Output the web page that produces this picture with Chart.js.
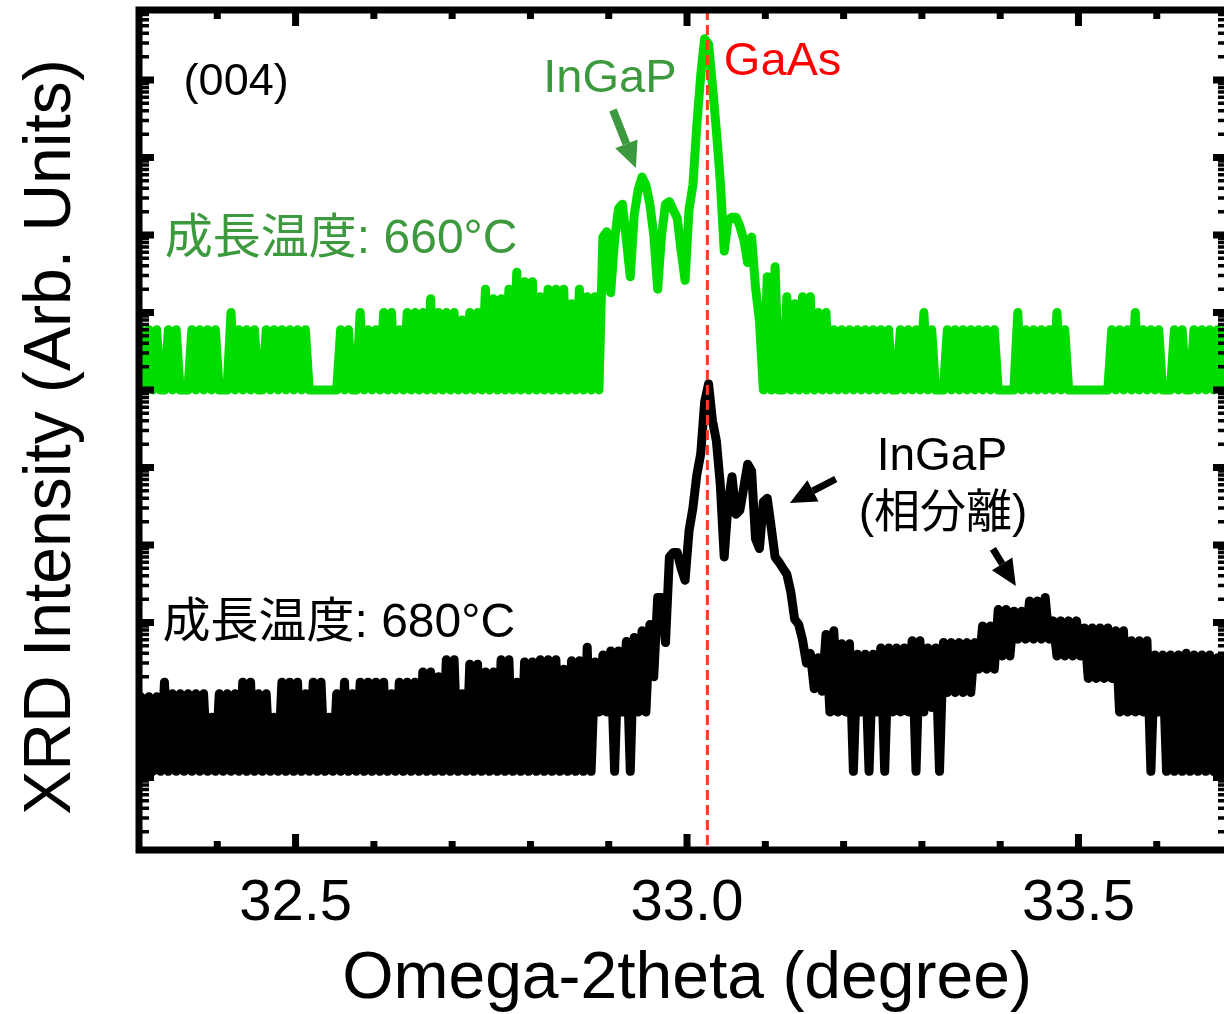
<!DOCTYPE html>
<html>
<head>
<meta charset="utf-8">
<title>XRD (004)</title>
<script src="https://cdn.jsdelivr.net/npm/chart.js@4.4.1/dist/chart.umd.min.js"></script>
<style>
  html, body {margin: 0; padding: 0; background: #fff; overflow: hidden;}
  #xrd {display: block;}
</style>
</head>
<body>
<canvas id="xrd" width="1234" height="1014"></canvas>
<script>

// scan grid, degrees (omega-2theta)
var scanStart = 32.3025;
var scanStep = 0.005;
var gaasAngle = 33.026;

// 660C sample, intensity (arb., shifted up), one value per scan step
var green660 = [
  6e5,1e5,6e5,1e5,6e5,1e5,1e5,6e5,1e5,6e5,
  1e5,1e5,1e5,6e5,1e5,6e5,1e5,6e5,1e5,6e5,
  1e5,1e5,1e5,1e6,1e5,6e5,1e5,6e5,1e5,6e5,
  1e5,1e5,6e5,1e5,6e5,1e5,6e5,1e5,6e5,1e5,
  6e5,1e5,6e5,1e5,1e5,1e5,1e5,1e5,1e5,1e5,
  1e5,6e5,1e5,6e5,1e5,1e5,1e6,1e5,6e5,1e5,
  6e5,1e5,1e6,1e5,1e6,1e5,6e5,1e5,1e6,1e5,
  1e6,1e5,1e6,1e5,1.5e6,1e5,1e6,1e5,1e6,1e5,
  1e6,1e5,8e5,1e5,1e6,1e5,1e6,1e5,2e6,1e5,
  1.5e6,1e5,1.5e6,1e5,2e6,1e5,3.3e6,1e5,2.5e6,1e5,
  2.5e6,1e5,1.6e6,1e5,2e6,1e5,2e6,1e5,2e6,1e5,
  1.3e6,1e5,2e6,1e5,1.6e6,1e5,1.6e6,1e5,9.4e6,1.1e7,
  1.8e6,8.7e6,2.2e7,2.5e7,8.7e6,2.9e6,1.8e7,3.8e7,5.6e7,4.4e7,
  2.5e7,1e7,2e6,1e7,2.5e7,2.7e7,2.1e7,1.65e7,6.2e6,2.6e6,
  2.1e7,4.4e7,2.6e8,1.15e9,3.4e9,2.9e9,8.5e8,2.2e8,4.9e7,6.2e6,
  1.55e7,1.7e7,1.7e7,1.3e7,8.7e6,4.4e6,9.4e6,2.1e6,7.9e5,1e5,
  2.9e6,1e5,3.9e6,1e5,1e5,1.6e6,1e5,1.3e6,1e5,1.6e6,
  1e5,1.6e6,1e5,1e6,1e5,1e6,1e5,6e5,1e5,6e5,
  1e5,6e5,1e5,6e5,1e5,6e5,1e5,6e5,1e5,6e5,
  1e5,6e5,1e5,1e5,6e5,1e5,6e5,1e5,6e5,1e5,
  1e6,1e5,6e5,1e5,1e5,1e5,6e5,1e5,6e5,1e5,
  6e5,1e5,6e5,1e5,6e5,1e5,6e5,1e5,6e5,1e5,
  1e5,1e5,1e5,1e5,1e6,1e5,6e5,1e5,6e5,1e5,
  6e5,1e5,6e5,1e5,1e6,1e5,6e5,1e5,1e5,1e5,
  1e5,1e5,1e5,1e5,1e5,1e5,1e5,1e5,6e5,1e5,
  6e5,1e5,6e5,1e5,1e6,1e5,6e5,1e5,6e5,1e5,
  6e5,1e5,1e5,1e5,6e5,1e5,6e5,1e5,1e5,6e5,
  1e5,6e5,1e5,6e5,1e5,6e5,1e5,6e5,1e5
];

// 680C sample, intensity (arb.), same scan grid
var black680 = [
  11,1.2,11,1.2,11,1.2,17,1.2,12,1.2,
  12,1.2,12,1.2,12,1.2,12,1.2,6,1.2,
  12,1.2,12,1.2,12,1.2,17,1.2,17,1.2,
  12,1.2,12,1.2,6,1.2,17,1.2,17,1.2,
  17,1.2,12,1.2,17,1.2,17,1.2,6,1.2,
  12,1.2,17,1.2,12,1.2,17,1.2,17,1.2,
  17,1.2,17,1.2,12,1.2,17,1.2,17,1.2,
  17,1.2,23,1.2,23,1.2,20,1.2,33,1.2,
  33,1.2,12,1.2,29,1.2,29,1.2,23,1.2,
  23,1.2,33,1.2,33,1.2,17,1.2,31,1.2,
  31,1.2,33,1.2,33,1.2,33,1.2,25,1.2,
  32,1.2,32,1.2,48,1.2,31,7,38,7,
  43,1.2,43,7,57,1.2,64,7,78,7,
  94,20,210,210,55,700,800,800,500,350,
  1500,3000,8000,1.5e4,7e4,1.2e5,4e4,2.2e4,6000,700,
  3500,7600,2500,2800,5500,1.1e4,9000,1200,900,3600,
  4000,1700,700,600,500,420,250,110,95,60,
  30,40,14,35,13,70,7,78,7,53,
  7,53,1.2,39,7,39,1.2,39,7,47,
  1.2,47,7,47,7,47,7,58,1.2,58,
  7,47,8,47,1.2,55,12.5,55,12.5,55,
  12.5,55,12.5,55,25,90,25,90,25,147,
  37,147,37,140,61,140,61,190,61,190,
  61,210,61,105,37,105,37,105,37,105,
  37,85,19,85,19,85,19,85,19,78,
  7,78,7,58,7,58,7,58,1.2,38,
  7,38,1.2,38,1.2,38,1.2,40,1.2,38,
  1.2,38,1.2,38,1.2,35,1.2,35,1.2
];

var xMajorTicks = [32.5, 33.0, 33.5];
var xTickLabels = ['32.5', '33.0', '33.5'];
var xMinorTicks = [32.4, 32.6, 32.7, 32.8, 32.9, 33.1, 33.2, 33.3, 33.4, 33.6];

var FONT = '"Liberation Sans", "Noto Sans CJK JP", Arial, sans-serif';
var DARK_GREEN = '#3d993d';

function toPoints(values) {
  return values.map(function(v, i) {
    return {x: +(scanStart + i * scanStep).toFixed(4), y: v};
  });
}

// frame, ticks, dashed GaAs line and all the texts
var decorations = {
  id: 'decorations',
  afterDatasetsDraw: function(chart) {
    var ctx = chart.ctx, a = chart.chartArea;
    var xs = chart.scales.x, ys = chart.scales.y;
    ctx.save();

    // GaAs reference line
    var gx = xs.getPixelForValue(gaasAngle);
    ctx.strokeStyle = '#ff3b1f';
    ctx.lineWidth = 3;
    ctx.setLineDash([10, 5]);
    ctx.beginPath();
    ctx.moveTo(gx, a.top);
    ctx.lineTo(gx, a.bottom);
    ctx.stroke();
    ctx.setLineDash([]);

    // box
    ctx.strokeStyle = '#000';
    ctx.lineWidth = 7;
    ctx.strokeRect(a.left, a.top, a.right - a.left, a.bottom - a.top);

    // x ticks, top and bottom, pointing in
    function xTick(v, len) {
      var px = xs.getPixelForValue(v);
      ctx.lineWidth = 7;
      ctx.beginPath();
      ctx.moveTo(px, a.bottom); ctx.lineTo(px, a.bottom - len);
      ctx.moveTo(px, a.top); ctx.lineTo(px, a.top + len);
      ctx.stroke();
    }
    xMajorTicks.forEach(function(v) { xTick(v, 16); });
    xMinorTicks.forEach(function(v) { xTick(v, 9); });

    // log ticks on y, left and right, pointing in
    for (var e = -1; e <= 9; e++) {
      for (var m = 1; m <= 9; m++) {
        var v = m * Math.pow(10, e);
        if (v < ys.min || v > ys.max) continue;
        var py = ys.getPixelForValue(v);
        var len = m === 1 ? 15 : 10;
        ctx.lineWidth = m === 1 ? 7 : 3.5;
        ctx.beginPath();
        ctx.moveTo(a.left, py); ctx.lineTo(a.left + len, py);
        ctx.moveTo(a.right, py); ctx.lineTo(a.right - len, py);
        ctx.stroke();
      }
    }

    // tick labels and axis titles
    ctx.fillStyle = '#000';
    ctx.textBaseline = 'alphabetic';
    ctx.textAlign = 'center';
    ctx.font = '58px ' + FONT;
    xMajorTicks.forEach(function(v, i) {
      ctx.fillText(xTickLabels[i], xs.getPixelForValue(v), a.bottom + 70);
    });
    ctx.font = '66px ' + FONT;
    ctx.fillText('Omega-2theta (degree)', 687, 998);
    ctx.save();
    ctx.translate(70, 437);
    ctx.rotate(-Math.PI / 2);
    ctx.fillText('XRD Intensity (Arb. Units)', 0, 0);
    ctx.restore();

    // notes placed in data coordinates
    function note(text, x, y, color, size, align) {
      ctx.fillStyle = color;
      ctx.font = size + 'px ' + FONT;
      ctx.textAlign = align;
      ctx.fillText(text, xs.getPixelForValue(x), ys.getPixelForValue(y));
    }
    function arrow(x1, y1, x2, y2, color, w) {
      var p1x = xs.getPixelForValue(x1), p1y = ys.getPixelForValue(y1);
      var p2x = xs.getPixelForValue(x2), p2y = ys.getPixelForValue(y2);
      var ang = Math.atan2(p2y - p1y, p2x - p1x);
      var head = 26, half = 12;
      var bx = p2x - head * Math.cos(ang), by = p2y - head * Math.sin(ang);
      ctx.strokeStyle = color;
      ctx.fillStyle = color;
      ctx.lineWidth = w;
      ctx.lineCap = 'butt';
      ctx.beginPath();
      ctx.moveTo(p1x, p1y); ctx.lineTo(bx, by);
      ctx.stroke();
      ctx.beginPath();
      ctx.moveTo(p2x, p2y);
      ctx.lineTo(bx + half * Math.sin(ang), by - half * Math.cos(ang));
      ctx.lineTo(bx - half * Math.sin(ang), by + half * Math.cos(ang));
      ctx.closePath();
      ctx.fill();
    }

    note('(004)', 32.357, 6.4e8, '#000', 45, 'left');
    note('InGaP', 32.9015, 7e8, DARK_GREEN, 47, 'center');
    arrow(32.9054, 4.1e8, 32.9347, 7.3e7, DARK_GREEN, 8);
    note('GaAs', 33.047, 1.16e9, '#ff0000', 47, 'left');
    note('成長温度: 660°C', 32.333, 5.9e6, DARK_GREEN, 48, 'left');
    note('成長温度: 680°C', 32.330, 65, '#000', 48, 'left');
    note('InGaP', 33.3255, 9300, '#000', 46, 'center');
    note('(相分離)', 33.327, 1700, '#000', 46, 'center');
    arrow(33.190, 7100, 33.1314, 3480, '#000', 7);
    arrow(33.3907, 890, 33.420, 296, '#000', 7);

    ctx.restore();
  }
};

new Chart(document.getElementById('xrd'), {
  type: 'line',
  data: {
    datasets: [{
      label: '660',
      data: toPoints(green660),
      borderColor: '#00dc00',
      borderWidth: 9,
      pointRadius: 0,
      tension: 0,
      fill: false,
      borderJoinStyle: 'round',
      borderCapStyle: 'round'
    }, {
      label: '680',
      data: toPoints(black680),
      borderColor: '#000000',
      borderWidth: 9,
      pointRadius: 0,
      tension: 0,
      fill: false,
      borderJoinStyle: 'round',
      borderCapStyle: 'round'
    }]
  },
  options: {
    responsive: false,
    animation: false,
    devicePixelRatio: 1,
    layout: {padding: {left: 139, top: 10, right: 6, bottom: 164}},
    plugins: {
      legend: {display: false},
      tooltip: {enabled: false}
    },
    scales: {
      x: {type: 'linear', min: 32.3, max: 33.691, display: false},
      y: {type: 'logarithmic', min: 0.116, max: 8.0e9, display: false}
    }
  },
  plugins: [decorations]
});

</script>
</body>
</html>
